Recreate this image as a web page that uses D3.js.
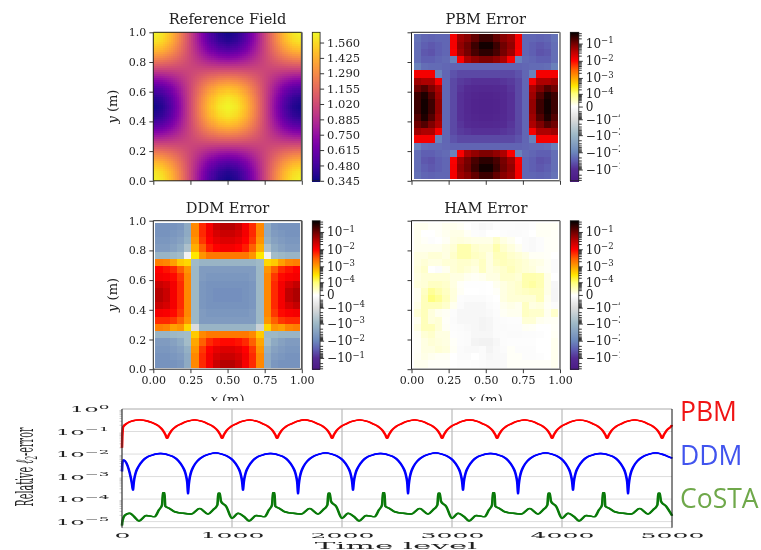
<!DOCTYPE html>
<html>
<head>
<meta charset="utf-8">
<script src="https://cdnjs.cloudflare.com/ajax/libs/d3/7.8.5/d3.min.js"></script>
<style>
html,body{margin:0;padding:0;background:#fff;}
svg{display:block;filter:blur(0.35px);}
text{font-family:"DejaVu Serif",serif;fill:#222;}
</style>
</head>
<body>
<div id="graph"></div>
<script>
// reference field, rows top (y=1) to bottom (y=0)
var referenceField = [
[1.645,1.596,1.455,1.244,.995,.746,.535,.394,.345,.394,.535,.746,.995,1.244,1.455,1.596,1.645],
[1.596,1.550,1.419,1.225,.995,.765,.571,.440,.394,.440,.571,.765,.995,1.225,1.419,1.550,1.596],
[1.455,1.419,1.320,1.171,.995,.819,.670,.571,.535,.571,.670,.819,.995,1.171,1.320,1.419,1.455],
[1.244,1.225,1.171,1.091,.995,.899,.819,.765,.746,.765,.819,.899,.995,1.091,1.171,1.225,1.244],
[.995,.995,.995,.995,.995,.995,.995,.995,.995,.995,.995,.995,.995,.995,.995,.995,.995],
[.746,.765,.819,.899,.995,1.091,1.171,1.225,1.244,1.225,1.171,1.091,.995,.899,.819,.765,.746],
[.535,.571,.670,.819,.995,1.171,1.320,1.419,1.455,1.419,1.320,1.171,.995,.819,.670,.571,.535],
[.394,.440,.571,.765,.995,1.225,1.419,1.550,1.596,1.550,1.419,1.225,.995,.765,.571,.440,.394],
[.345,.394,.535,.746,.995,1.244,1.455,1.596,1.645,1.596,1.455,1.244,.995,.746,.535,.394,.345],
[.394,.440,.571,.765,.995,1.225,1.419,1.550,1.596,1.550,1.419,1.225,.995,.765,.571,.440,.394],
[.535,.571,.670,.819,.995,1.171,1.320,1.419,1.455,1.419,1.320,1.171,.995,.819,.670,.571,.535],
[.746,.765,.819,.899,.995,1.091,1.171,1.225,1.244,1.225,1.171,1.091,.995,.899,.819,.765,.746],
[.995,.995,.995,.995,.995,.995,.995,.995,.995,.995,.995,.995,.995,.995,.995,.995,.995],
[1.244,1.225,1.171,1.091,.995,.899,.819,.765,.746,.765,.819,.899,.995,1.091,1.171,1.225,1.244],
[1.455,1.419,1.320,1.171,.995,.819,.670,.571,.535,.571,.670,.819,.995,1.171,1.320,1.419,1.455],
[1.596,1.550,1.419,1.225,.995,.765,.571,.440,.394,.440,.571,.765,.995,1.225,1.419,1.550,1.596],
[1.645,1.596,1.455,1.244,.995,.746,.535,.394,.345,.394,.535,.746,.995,1.244,1.455,1.596,1.645]
];
var fieldTicks = [.345,.48,.615,.75,.885,1.02,1.155,1.29,1.425,1.56];

var pbmError = [
[-.018,-.025,-.027,-.025,-.025,.012,.05,.07,.12,.2,.2,.12,.07,.05,.012,-.025,-.025,-.027,-.025,-.018],
[-.02,-.03,-.035,-.03,-.025,.012,.06,.1,.2,.35,.35,.2,.1,.06,.012,-.025,-.03,-.035,-.03,-.02],
[-.02,-.035,-.04,-.03,-.025,.011,.05,.09,.17,.25,.25,.17,.09,.05,.011,-.025,-.03,-.04,-.035,-.02],
[-.02,-.03,-.03,-.025,-.022,-.012,.011,.04,.06,.08,.08,.06,.04,.011,-.012,-.022,-.025,-.03,-.03,-.02],
[-.012,-.02,-.022,-.022,-.024,-.026,-.026,-.026,-.026,-.026,-.026,-.026,-.026,-.026,-.026,-.024,-.022,-.022,-.02,-.012],
[.012,.012,.012,-.012,-.025,-.04,-.05,-.05,-.05,-.05,-.05,-.05,-.05,-.05,-.04,-.025,-.012,.012,.012,.012],
[.05,.04,.04,.012,-.025,-.05,-.07,-.08,-.09,-.09,-.09,-.09,-.08,-.07,-.05,-.025,.012,.04,.04,.05],
[.1,.15,.08,.04,-.025,-.05,-.08,-.11,-.13,-.14,-.14,-.13,-.11,-.08,-.05,-.025,.04,.08,.15,.1],
[.2,.3,.15,.05,-.025,-.05,-.09,-.13,-.17,-.19,-.19,-.17,-.13,-.09,-.05,-.025,.05,.15,.3,.2],
[.2,.35,.2,.06,-.025,-.05,-.09,-.14,-.19,-.22,-.22,-.19,-.14,-.09,-.05,-.025,.06,.2,.35,.2],
[.2,.35,.2,.06,-.025,-.05,-.09,-.14,-.19,-.22,-.22,-.19,-.14,-.09,-.05,-.025,.06,.2,.35,.2],
[.15,.3,.15,.05,-.025,-.05,-.09,-.13,-.17,-.19,-.19,-.17,-.13,-.09,-.05,-.025,.05,.15,.3,.15],
[.1,.15,.08,.04,-.025,-.05,-.08,-.11,-.13,-.14,-.14,-.13,-.11,-.08,-.05,-.025,.04,.08,.15,.1],
[.05,.04,.04,.012,-.025,-.05,-.07,-.08,-.09,-.09,-.09,-.09,-.08,-.07,-.05,-.025,.012,.04,.04,.05],
[.012,.012,.012,-.012,-.025,-.04,-.05,-.05,-.05,-.05,-.05,-.05,-.05,-.05,-.04,-.025,-.012,.012,.012,.012],
[-.012,-.02,-.022,-.022,-.024,-.026,-.026,-.026,-.026,-.026,-.026,-.026,-.026,-.026,-.026,-.024,-.022,-.022,-.02,-.012],
[-.02,-.03,-.03,-.025,-.022,-.012,.011,.04,.06,.08,.08,.06,.04,.011,-.012,-.022,-.025,-.03,-.03,-.02],
[-.02,-.035,-.04,-.03,-.025,.011,.05,.09,.17,.25,.25,.17,.09,.05,.011,-.025,-.03,-.04,-.035,-.02],
[-.02,-.03,-.035,-.03,-.025,.012,.06,.1,.2,.35,.35,.2,.1,.06,.012,-.025,-.03,-.035,-.03,-.02],
[-.018,-.025,-.027,-.025,-.025,.012,.05,.07,.12,.2,.2,.12,.07,.05,.012,-.025,-.025,-.027,-.025,-.018]
];

var ddmError = [
[-.006,-.006,-.006,-.005,-.002,.0015,.006,.012,.025,.035,.035,.025,.012,.006,.0015,-.002,-.005,-.006,-.006,-.006],
[-.006,-.006,-.005,-.004,-.002,.0015,.006,.012,.02,.025,.025,.02,.012,.006,.0015,-.002,-.004,-.005,-.006,-.006],
[-.005,-.005,-.004,-.003,-.0015,.0012,.005,.01,.015,.018,.018,.015,.01,.005,.0012,-.0015,-.003,-.004,-.005,-.005],
[-.004,-.004,-.003,-.002,-.0006,.0008,.003,.007,.01,.012,.012,.01,.007,.003,.0008,-.0006,-.002,-.003,-.004,-.004],
[-.0012,-.0012,-.001,-.0008,-.00002,.0003,.0012,.002,.002,.002,.002,.002,.002,.0012,.0003,-.00002,-.0008,-.001,-.0012,-.0012],
[.0018,.0016,.001,.0005,.0004,-.0009,-.0012,-.0012,-.0012,-.0012,-.0012,-.0012,-.0012,-.0012,-.0009,.0004,.0005,.001,.0016,.0018],
[.01,.008,.006,.003,.0012,-.001,-.004,-.004,-.004,-.004,-.004,-.004,-.004,-.004,-.001,.0012,.003,.006,.008,.01],
[.012,.011,.009,.005,.0015,-.001,-.004,-.005,-.005,-.005,-.005,-.005,-.005,-.004,-.001,.0015,.005,.009,.011,.012],
[.025,.02,.012,.006,.0015,-.001,-.005,-.006,-.006,-.006,-.006,-.006,-.006,-.005,-.001,.0015,.006,.012,.02,.028],
[.035,.025,.012,.006,.0015,-.001,-.005,-.006,-.007,-.007,-.007,-.007,-.006,-.005,-.001,.0015,.006,.012,.03,.04],
[.035,.025,.012,.006,.0015,-.001,-.005,-.006,-.007,-.007,-.007,-.007,-.006,-.005,-.001,.0015,.006,.012,.03,.04],
[.025,.02,.012,.006,.0015,-.001,-.005,-.006,-.006,-.006,-.006,-.006,-.006,-.005,-.001,.0015,.006,.012,.02,.028],
[.012,.011,.009,.005,.0015,-.001,-.004,-.005,-.005,-.005,-.005,-.005,-.005,-.004,-.001,.0015,.005,.009,.011,.012],
[.006,.006,.005,.003,.0012,-.001,-.004,-.004,-.004,-.004,-.004,-.004,-.004,-.004,-.001,.0012,.003,.005,.006,.006],
[.0018,.0016,.001,.0012,.0004,-.0001,-.0012,-.0012,-.0012,-.0012,-.0012,-.0012,-.0012,-.0012,-.0002,.0004,.0012,.001,.0016,.0018],
[-.0012,-.0012,-.001,-.0009,-.0008,.0005,.0015,.002,.002,.002,.002,.002,.002,.0015,.0005,-.001,-.001,-.0012,-.0012,-.0012],
[-.004,-.004,-.003,-.002,-.0008,.0009,.003,.006,.008,.009,.009,.008,.006,.003,.0009,-.0008,-.002,-.003,-.004,-.004],
[-.005,-.005,-.004,-.003,-.0015,.0012,.005,.01,.015,.018,.018,.015,.01,.005,.0012,-.0015,-.003,-.004,-.005,-.005],
[-.006,-.006,-.005,-.004,-.002,.0015,.006,.012,.02,.025,.025,.02,.012,.006,.0015,-.002,-.004,-.005,-.006,-.006],
[-.006,-.006,-.006,-.005,-.002,.0015,.006,.012,.025,.035,.035,.025,.012,.006,.0015,-.002,-.005,-.006,-.006,-.006]
];

// in units of 1e-5
var hamError = [
[.5,.5,.2,.2,.5,.5,.3,0,-.5,-1,-.8,-.2,-.3,-.3,-.5,-.5,-.2,.3,.3,.3],
[.5,0,0,.2,.5,.8,.8,.3,-.3,-.5,0,0,-.3,-.5,-.5,-.3,0,.3,.3,.2],
[.5,.2,-.2,0,.3,1,1.2,1,.8,.8,.8,2,1,.5,0,-.5,-.8,-.3,.2,.2],
[.5,.5,.5,.5,1,1.5,4,4,2,1.5,1.5,4,2,1.2,.5,-.5,-.8,-.3,.2,.2],
[1,1,1.5,1.5,1,2,4,4,2.5,2,1,3,3,2,1.5,1,.3,.3,.2,0],
[1,1.5,1,1,1.5,1.5,2,2,1.5,2.5,1,2.5,3,2.5,2,1.5,1,.8,.3,-.5],
[1.2,2,0,-.3,.5,1.5,2,1.5,1,2.5,1,1.5,2,3,2,1.5,1.2,.5,.3,-.5],
[1,1.5,1.5,1.5,1.5,1,1,.5,.3,.5,1,1,2,2,1.5,4,4,3.5,.8,0],
[1.2,1.5,2.5,2.5,2,1,.2,-.1,-.1,-.1,0,.5,1,1.5,2,4,5,3.5,.8,-1],
[.5,2.5,6,4,2.5,1.2,.3,0,0,-.1,0,.2,1,1.5,2,2.5,3,3,.8,-1.2],
[.5,3,9,6,3,1.2,-.3,-.5,-.5,-.5,-.2,0,1,1.5,1.5,1.5,1.5,3,.5,-1.2],
[.8,3,3,3,2,.5,-.5,-1,-1,-1,-.5,-.2,.5,.8,.5,2.5,1,1.2,.3,-.5],
[1.5,3,1.2,.5,.3,-.3,-1,-1,-1,-1,-.8,-.3,.3,.5,.5,2.5,2,2,.5,2],
[.5,3,1.2,1.5,.2,-.5,-1,-1,-1,-1.5,-1.2,-.5,-.3,-.2,-.2,1.5,1.5,.5,.3,.3],
[1,3,3,1.5,.3,-.3,-.5,-.8,-1,-1.5,-1.2,-.5,-.5,-.3,-.3,.3,.2,0,0,.2],
[.3,1.5,2,1,1,-.2,-.3,-.5,-1,-1,-1,-.5,-.3,-.5,-.5,-.3,-.3,-.2,0,.3],
[.2,1,1.5,1.2,1,.2,-.3,-.5,-1.5,-2,-2,-1,-.3,-.2,-.2,-.2,-.2,0,0,.5],
[.2,1,1,1.5,1.2,.3,-.5,-.8,-.8,-.5,-1.5,-.8,-.5,.2,-.3,-.3,-.3,0,0,.5],
[.3,.8,.5,.3,.3,0,-.5,-.5,0,-.5,-1,-.8,-.8,.2,.2,-.3,-.3,-.2,0,.5],
[.5,.5,.2,.2,.2,0,-.2,-.2,-.3,-.5,-.8,-.8,-.8,.2,.2,.2,.2,.2,.2,.5]
];

// symlog colormap of the error panels
var errStops = [-.45,-.1,-.03,-.01,-.001,-.0001,0,.0001,.0003,.001,.003,.01,.03,.1,.45];
var errColors = ["#4c1a86","#552c94","#5f5fb2","#6c88bc","#9db8c6","#dcdcdc","#ffffff","#ffff78","#ffe800","#ffa000","#ff6000","#ff0000","#c00000","#700000","#000000"];
var errTicks = [-.1,-.01,-.001,-.0001,0,.0001,.001,.01,.1];

// relative l2-error curves
var pbmTime = [
0,3,10,50,100,160,220,280,330,370,395,
410,425,450,490,540,590,660,730,780,830,870,895,
910,925,950,990,1040,1090,1160,1230,1280,1330,1370,1395,
1410,1425,1450,1490,1540,1590,1660,1730,1780,1830,1870,1895,
1910,1925,1950,1990,2040,2090,2160,2230,2280,2330,2370,2395,
2410,2425,2450,2490,2540,2590,2660,2730,2780,2830,2870,2895,
2910,2925,2950,2990,3040,3090,3160,3230,3280,3330,3370,3395,
3410,3425,3450,3490,3540,3590,3660,3730,3780,3830,3870,3895,
3910,3925,3950,3990,4040,4090,4160,4230,4280,4330,4370,4395,
4410,4425,4450,4490,4540,4590,4660,4730,4780,4830,4870,4895,
4910,4925,4950,4990,5000];
var pbmValue = [
.019,.06,.16,.24,.3,.33,.3,.24,.18,.115,.072,
.05,.07,.11,.165,.22,.28,.33,.28,.22,.165,.11,.07,
.05,.07,.11,.165,.22,.28,.33,.28,.22,.165,.11,.07,
.05,.07,.11,.165,.22,.28,.335,.28,.22,.165,.11,.07,
.05,.07,.11,.165,.22,.28,.33,.28,.22,.165,.11,.07,
.05,.07,.11,.165,.22,.28,.33,.28,.22,.165,.11,.07,
.05,.07,.11,.165,.22,.28,.325,.28,.22,.165,.11,.07,
.05,.07,.11,.165,.22,.28,.33,.28,.22,.165,.11,.07,
.05,.07,.11,.165,.22,.28,.32,.28,.22,.165,.11,.07,
.05,.07,.11,.165,.22,.28,.33,.28,.22,.165,.11,.07,
.05,.07,.11,.165,.19];

var ddmTime = [
0,5,15,40,60,80,90,
100,105,112,125,150,190,240,290,350,410,460,510,550,575,588,595,
600,605,612,625,650,690,740,790,850,910,960,1010,1050,1075,1088,1095,
1100,1105,1112,1125,1150,1190,1240,1290,1350,1410,1460,1510,1550,1575,1588,1595,
1600,1605,1612,1625,1650,1690,1740,1790,1850,1910,1960,2010,2050,2075,2088,2095,
2100,2105,2112,2125,2150,2190,2240,2290,2350,2410,2460,2510,2550,2575,2588,2595,
2600,2605,2612,2625,2650,2690,2740,2790,2850,2910,2960,3010,3050,3075,3088,3095,
3100,3105,3112,3125,3150,3190,3240,3290,3350,3410,3460,3510,3550,3575,3588,3595,
3600,3605,3612,3625,3650,3690,3740,3790,3850,3910,3960,4010,4050,4075,4088,4095,
4100,4105,4112,4125,4150,4190,4240,4290,4350,4410,4460,4510,4550,4575,4588,4595,
4600,4605,4612,4625,4650,4690,4740,4790,4850,4910,4960,5000];
var ddmValue = [
.0017,.0045,.0055,.004,.0022,.0009,.0005,
.00025,.00045,.0008,.0015,.0028,.0052,.0078,.0095,.0105,.0095,.0078,.0052,.0028,.0015,.0008,.00045,
.00017,.00035,.0007,.0014,.0028,.0052,.0079,.0098,.0113,.0098,.0079,.0052,.0028,.0015,.0008,.00045,
.00025,.00045,.0008,.0015,.0028,.0052,.0078,.0095,.0105,.0095,.0078,.0052,.0028,.0015,.0008,.00045,
.00017,.00035,.0007,.0014,.0028,.0052,.0079,.0098,.0113,.0098,.0079,.0052,.0028,.0015,.0008,.00045,
.00025,.00045,.0008,.0015,.0028,.0052,.0078,.0095,.0105,.0095,.0078,.0052,.0028,.0015,.0008,.00045,
.00017,.00035,.0007,.0014,.0028,.0052,.0079,.0098,.0113,.0098,.0079,.0052,.0028,.0015,.0008,.00045,
.00025,.00045,.0008,.0015,.0028,.0052,.0078,.0095,.0105,.0095,.0078,.0052,.0028,.0015,.0008,.00045,
.00017,.00035,.0007,.0014,.0028,.0052,.0079,.0098,.0113,.0098,.0079,.0052,.0028,.0015,.0008,.00045,
.00025,.00045,.0008,.0015,.0028,.0052,.0078,.0095,.0105,.0095,.0078,.0052,.0028,.0015,.0008,.00045,
.00017,.00035,.0007,.0014,.0028,.0052,.0079,.0098,.0113,.0098,.0079,.0066];

var costaTime = [
0,5,25,70,110,155,220,297,336,364,373,385,394,433,479,555,630,706,782,827,867,876,888,900,948,
1000,1055,1110,1155,1220,1297,1336,1364,1373,1385,1394,1433,1479,1555,1630,1706,1782,1827,1867,1876,1888,1900,1948,
2000,2055,2110,2155,2220,2297,2336,2364,2373,2385,2394,2433,2479,2555,2630,2706,2782,2827,2867,2876,2888,2900,2948,
3000,3055,3110,3155,3220,3297,3336,3364,3373,3385,3394,3433,3479,3555,3630,3706,3782,3827,3867,3876,3888,3900,3948,
4000,4055,4110,4155,4220,4297,4336,4364,4373,4385,4394,4433,4479,4555,4630,4706,4782,4827,4867,4876,4888,4900,4948,
5000];
// in units of 1e-5
var costaValue = [
.67,1.1,1.9,2.34,1.66,1.07,1.86,1.66,3.31,5.5,19,19,4.79,3.8,2.75,2.34,2.19,3.89,2.19,3.31,5.5,18.2,18.2,7.94,4.68,
1.41,2.34,1.66,1.07,1.86,1.66,3.31,5.5,19,19,4.79,3.8,2.75,2.34,2.19,3.89,2.19,3.31,5.5,18.2,18.2,7.94,4.68,
1.41,2.34,1.66,1.07,1.86,1.66,3.31,5.5,19,19,4.79,3.8,2.75,2.34,2.19,3.89,2.19,3.31,5.5,18.2,18.2,7.94,4.68,
1.41,2.34,1.66,1.07,1.86,1.66,3.31,5.5,19,19,4.79,3.8,2.75,2.34,2.19,3.89,2.19,3.31,5.5,18.2,18.2,7.94,4.68,
1.41,2.34,1.66,1.07,1.86,1.66,3.31,5.5,19,19,4.79,3.8,2.75,2.34,2.19,3.89,2.19,3.31,5.5,18.2,18.2,7.94,4.68,
1.86];
var timeTicks = [0,1000,2000,3000,4000,5000];
var errorTicks = [1,.1,.01,.001,.0001,.00001];

var svg = d3.select("#graph").append("svg").attr("width",761).attr("height",550);
svg.append("rect").attr("width",761).attr("height",550).attr("fill","#fff");

var fieldColor = d3.scaleSequential(d3.interpolatePlasma).domain([.345,1.65]);
var errPos = d3.scaleSymlog().constant(2.25e-5).domain([-.45,.45]).range([0,1]);
var errRamp = d3.scaleLinear().domain(errStops.map(function(v){return errPos(v);})).range(errColors).clamp(true);
function errColor(v){ return errRamp(errPos(v)); }

function setTicks(g,size){
	g.select(".domain").remove();
	g.selectAll("line").attr("stroke","#222").attr("stroke-width",.9);
	g.selectAll("text").attr("font-size",size).attr("fill","#222");
}

// axes box for one panel, returns the scales
function drawBox(g,left,top,side,showX,showY,rightColor){
	var x = d3.scaleLinear().domain([0,1]).range([left,left+side]);
	var y = d3.scaleLinear().domain([0,1]).range([top+side,top]);
	var ax = g.append("g").attr("transform","translate(0,"+(top+side)+")")
		.call(d3.axisBottom(x).tickValues([0,.25,.5,.75,1]).tickSize(4).tickFormat(showX?d3.format(".2f"):""));
	setTicks(ax,11);
	var ay = g.append("g").attr("transform","translate("+left+",0)")
		.call(d3.axisLeft(y).tickValues([0,.2,.4,.6,.8,1]).tickSize(4).tickFormat(showY?d3.format(".1f"):""));
	setTicks(ay,11);
	if (showX) {
		var xl = g.append("text").attr("x",left+side/2).attr("y",top+side+35).attr("text-anchor","middle").attr("font-size",13);
		xl.append("tspan").attr("font-style","italic").text("x");
		xl.append("tspan").text(" (m)");
	}
	if (showY) {
		var yl = g.append("text").attr("transform","translate("+(left-36)+","+(top+side/2)+") rotate(-90)").attr("text-anchor","middle").attr("font-size",13);
		yl.append("tspan").attr("font-style","italic").text("y");
		yl.append("tspan").text(" (m)");
	}
	return {x:x,y:y,left:left,top:top,side:side,right:rightColor};
}

function drawSpines(g,b){
	var l=b.left,t=b.top,s=b.side;
	var sides = [[l,t,l+s,t,"#222",1],[l,t+s,l+s,t+s,"#222",1],[l,t,l,t+s,"#222",1],[l+s,t,l+s,t+s,b.right,b.right=="#222"?1:1.8]];
	g.selectAll(".spine").data(sides).enter().append("line").attr("class","spine")
		.attr("x1",function(d){return d[0];}).attr("y1",function(d){return d[1];})
		.attr("x2",function(d){return d[2];}).attr("y2",function(d){return d[3];})
		.attr("stroke",function(d){return d[4];}).attr("stroke-width",function(d){return d[5];});
}

function drawTitle(g,b,label){
	g.append("text").attr("x",b.left+b.side/2).attr("y",b.top-8).attr("text-anchor","middle").attr("font-size",14.6).text(label);
}

// one rect per cell of the error grid
function drawCells(g,b,grid){
	var cols = d3.scaleBand().domain(d3.range(20)).range([b.left+2,b.left+b.side-2]);
	var rows = d3.scaleBand().domain(d3.range(20)).range([b.top+2,b.top+b.side-2]);
	grid.forEach(function(row,j){
		g.selectAll(".r"+j).data(row).enter().append("rect").attr("class","r"+j)
			.attr("x",function(d,i){return cols(i);})
			.attr("y",rows(j))
			.attr("width",cols.bandwidth()+.3)
			.attr("height",rows.bandwidth()+.3)
			.attr("shape-rendering","crispEdges")
			.attr("fill",function(d){return errColor(d);});
	});
}

// smooth field, sampled between the grid values
function drawField(g,b,grid){
	var n = 74, size = b.side/n;
	var pos = d3.scaleLinear().domain([0,n]).range([0,grid.length-1]);
	var cells = [];
	for (var j=0;j<n;j++) for (var i=0;i<n;i++) {
		var u = pos(i+.5), v = pos(j+.5);
		var i0 = Math.floor(u), j0 = Math.floor(v), fu = u-i0, fv = v-j0;
		var top = d3.interpolateNumber(grid[j0][i0],grid[j0][i0+1])(fu);
		var bot = d3.interpolateNumber(grid[j0+1][i0],grid[j0+1][i0+1])(fu);
		cells.push({i:i,j:j,v:d3.interpolateNumber(top,bot)(fv)});
	}
	g.append("g").attr("shape-rendering","crispEdges").selectAll("rect").data(cells).enter().append("rect")
		.attr("x",function(d){return b.left+d.i*size;})
		.attr("y",function(d){return b.top+d.j*size;})
		.attr("width",size+.3).attr("height",size+.3)
		.attr("fill",function(d){return fieldColor(d.v);});
}

function drawBarStrip(g,left,top,side,width,colorAt){
	g.append("g").attr("shape-rendering","crispEdges").selectAll("rect").data(d3.range(side)).enter().append("rect")
		.attr("x",left).attr("y",function(d){return top+d;})
		.attr("width",width).attr("height",1.2)
		.attr("fill",function(d){return colorAt(1-(d+.5)/side);});
}

function drawFieldBar(g,left,top,side,width){
	drawBarStrip(g,left,top,side,width,function(t){return fieldColor(.345+t*1.305);});
	var y = d3.scaleLinear().domain([.345,1.65]).range([top+side,top]);
	var a = g.append("g").attr("transform","translate("+(left+width)+",0)")
		.call(d3.axisRight(y).tickValues(fieldTicks).tickSize(4).tickFormat(d3.format(".3f")));
	setTicks(a,11.5);
	g.append("rect").attr("x",left).attr("y",top).attr("width",width).attr("height",side).attr("fill","none").attr("stroke","#222").attr("stroke-width",.8);
}

function drawErrBar(g,left,top,side,width){
	drawBarStrip(g,left,top,side,width,function(t){return errRamp(t);});
	var y = errPos.copy().range([top+side,top]);
	var minor = [];
	[1e-5,1e-4,1e-3,1e-2,1e-1].forEach(function(p){
		d3.range(2,10).forEach(function(m){
			var v = p*m;
			if (v<.45) { minor.push(v); minor.push(-v); }
		});
	});
	var mg = g.append("g").attr("transform","translate("+(left+width)+",0)")
		.call(d3.axisRight(y).tickValues(minor).tickSize(3).tickFormat(""));
	setTicks(mg,1);
	var a = g.append("g").attr("transform","translate("+(left+width)+",0)")
		.call(d3.axisRight(y).tickValues(errTicks).tickSize(4));
	setTicks(a,12);
	a.selectAll(".tick text").each(function(d){
		var t = d3.select(this).text("");
		if (d==0) { t.text("0"); return; }
		var e = Math.round(Math.log10(Math.abs(d)));
		t.append("tspan").text((d<0?"\u2212":"")+"10");
		t.append("tspan").attr("font-size",8.5).attr("dy",-4.5).text("\u2212"+Math.abs(e));
	});
	g.append("rect").attr("x",left).attr("y",top).attr("width",width).attr("height",side).attr("fill","none").attr("stroke","#222").attr("stroke-width",.8);
}

var top1 = 32.3, top2 = 220.7, side = 148.5, left1 = 153.3, left2 = 411.5;
var clip = svg.append("clipPath").attr("id","upper").append("rect").attr("width",620).attr("height",401);
var upper = svg.append("g").attr("clip-path","url(#upper)");

var g1 = upper.append("g");
var b1 = drawBox(g1,left1,top1,side,false,true,"#555");
drawField(g1,b1,referenceField);
drawSpines(g1,b1);
drawTitle(g1,b1,"Reference Field");
drawFieldBar(g1,312.3,top1,side,7.8);

var g2 = upper.append("g");
var b2 = drawBox(g2,left2,top1,side,false,false,"#888");
drawCells(g2,b2,pbmError);
drawSpines(g2,b2);
drawTitle(g2,b2,"PBM Error");
drawErrBar(g2,570.3,top1,side,8.5);

var g3 = upper.append("g");
var b3 = drawBox(g3,left1,top2,side,true,true,"#555");
drawCells(g3,b3,ddmError);
drawSpines(g3,b3);
drawTitle(g3,b3,"DDM Error");
drawErrBar(g3,312.3,top2,side,7.8);

var g4 = upper.append("g");
var b4 = drawBox(g4,left2,top2,side,true,false,"#888");
drawCells(g4,b4,hamError.map(function(r){return r.map(function(v){return v*1e-5;});}));
drawSpines(g4,b4);
drawTitle(g4,b4,"HAM Error");
drawErrBar(g4,570.3,top2,side,8.5);

// bottom plot, its picture is stretched sideways so the text is too
var xTime = d3.scaleLinear().domain([0,5000]).range([122,672]);
var yErr = d3.scaleLog().domain([1,Math.pow(10,-5.27)]).range([409,527.7]);
var low = svg.append("g");

low.append("g").selectAll("line").data(errorTicks).enter().append("line")
	.attr("x1",122).attr("x2",672).attr("y1",function(d){return yErr(d);}).attr("y2",function(d){return yErr(d);})
	.attr("stroke",function(d){return d==1?"#aaa":"#ddd";}).attr("stroke-width",1);
low.append("g").selectAll("line").data(timeTicks.slice(1,5)).enter().append("line")
	.attr("x1",function(d){return xTime(d);}).attr("x2",function(d){return xTime(d);}).attr("y1",409).attr("y2",527.7)
	.attr("stroke","#bbb").attr("stroke-width",1.2);
low.append("line").attr("x1",122).attr("x2",672).attr("y1",527.7).attr("y2",527.7).attr("stroke","#ccc");

var yMinor = [];
[1e-1,1e-2,1e-3,1e-4,1e-5].forEach(function(p){
	d3.range(2,10).forEach(function(m){ yMinor.push(p*m); });
});
var ym = low.append("g").attr("transform","translate(122,0)")
	.call(d3.axisLeft(yErr).tickValues(yMinor).tickSize(2.5).tickFormat(""));
ym.select(".domain").remove();
ym.selectAll("line").attr("stroke","#aaa").attr("stroke-width",.6);

var ay = low.append("g").attr("transform","translate(122,0)")
	.call(d3.axisLeft(yErr).tickValues(errorTicks).tickSize(0));
ay.select(".domain").remove();
ay.selectAll(".tick text").each(function(d){
	var e = Math.round(Math.log10(d));
	var t = d3.select(this).text("").attr("x",-4.2).attr("y",2.5).attr("dy",null).attr("font-size",7.6).attr("fill","#222")
		.attr("transform","scale(3,1)").attr("text-anchor","end");
	t.append("tspan").text("10");
	t.append("tspan").attr("font-size",5.6).attr("dy",-3.2).text(e==0?"0":"\u2212"+Math.abs(e));
});

var ax = low.append("g").attr("transform","translate(0,527.7)")
	.call(d3.axisBottom(xTime).tickValues(timeTicks).tickSize(0).tickFormat(d3.format("d")));
ax.select(".domain").remove();
ax.selectAll(".tick text").attr("y",4.6).attr("font-size",7.6).attr("fill","#222").attr("transform","scale(3.3,1)");

function drawSeries(times,values,color){
	var line = d3.line()
		.x(function(d,i){return xTime(times[i]);})
		.y(function(d){return yErr(d);})
		.curve(d3.curveMonotoneX);
	// three passes a little apart in time, the steep parts of the curve come out thick like the oscillating original
	[-.6,0,.6].forEach(function(dx){
		low.append("path").attr("d",line(values)).attr("transform","translate("+dx+",0)")
			.attr("fill","none").attr("stroke",color).attr("stroke-width",1.4).attr("stroke-linejoin","round");
	});
}
drawSeries(pbmTime,pbmValue,"#ff0000");
drawSeries(ddmTime,ddmValue,"#0000ff");
drawSeries(costaTime,costaValue.map(function(v){return v*1e-5;}),"#0a7a0a");

low.append("line").attr("x1",122).attr("x2",122).attr("y1",409).attr("y2",527.7).attr("stroke","#333").attr("stroke-width",1.2);
low.append("line").attr("x1",672).attr("x2",672).attr("y1",409).attr("y2",527.7).attr("stroke","#111").attr("stroke-width",1);

var timeLabel = low.append("text").attr("font-size",11.5).attr("text-anchor","middle")
	.attr("transform","translate(396,549) scale(2.7,.8)").text("Time level");

var errLabel = low.append("text").attr("font-size",25).attr("text-anchor","middle");
errLabel.append("tspan").text("Relative ");
errLabel.append("tspan").attr("font-style","italic").text("\u2113");
errLabel.append("tspan").attr("font-size",16).attr("dy",4).text("2");
errLabel.append("tspan").attr("dy",-4).text("-error");
var errLen = errLabel.node().getComputedTextLength();
errLabel.attr("transform","translate(33,467) rotate(-90) scale("+(79/errLen)+",1)");

var names = ["PBM","DDM","CoSTA"];
var nameColors = ["#f01414","#4154ee","#6fa84a"];
var nameBase = [421,464.5,507.5];
low.selectAll(".name").data(names).enter().append("text").attr("class","name")
	.attr("x",680).attr("y",function(d,i){return nameBase[i];})
	.attr("font-size",26.5)
	.style("font-family","'Open Sans',sans-serif")
	.style("fill",function(d,i){return nameColors[i];})
	.text(function(d){return d;});
</script>
</body>
</html>
